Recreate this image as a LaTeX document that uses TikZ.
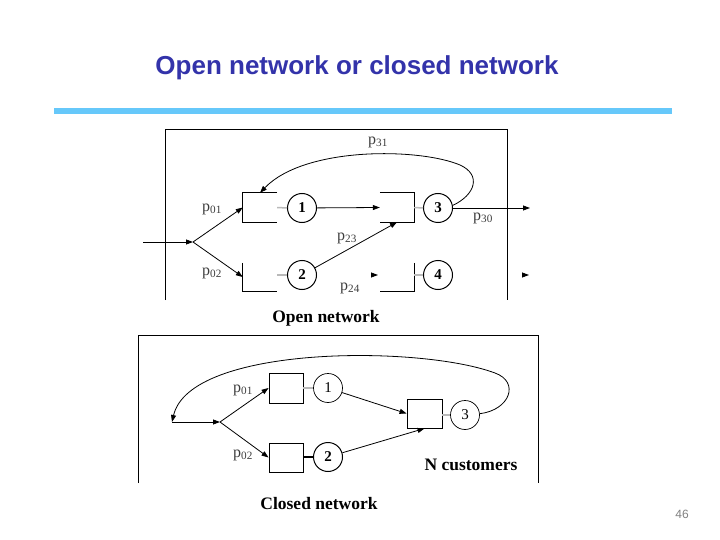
\documentclass[tikz,border=0pt]{standalone}
\usepackage{fontspec}
\setmainfont{Liberation Serif}
\newfontfamily\sansf{Liberation Sans}
\usetikzlibrary{arrows.meta}
\definecolor{titleblue}{RGB}{51,51,170}
\definecolor{rulecol}{RGB}{102,200,250}
\definecolor{lblcol}{RGB}{60,60,60}
\begin{document}
\begin{tikzpicture}[x=1pt,y=-1pt,
  arr/.style={line width=0.8pt,-{Triangle[length=7pt,width=5pt]}},
  frame/.style={line width=0.9pt},
  srv/.style={circle,draw,line width=1pt,minimum size=29pt,inner sep=0pt,font=\fontsize{15}{15}\selectfont\bfseries},
  que/.style={rectangle,minimum width=34pt,minimum height=29pt,inner sep=0pt},
  qline/.style={line width=0.9pt},
  link/.style={line width=1.5pt,gray!55},
  lbl/.style={font=\fontsize{16}{16}\selectfont,text=lblcol,inner sep=0pt},
  captext/.style={font=\fontsize{17.5}{17.5}\selectfont\bfseries,inner sep=0pt}]
\useasboundingbox (0,0) rectangle (720,540);
% title
\node[font=\sansf\fontsize{26}{26}\selectfont\bfseries,text=titleblue,inner sep=0pt] (title) at (357,68) {Open network or closed network};
\draw[rulecol,line width=6pt] (54,111) -- (672,111);
% ---------------- open network ----------------
\draw[frame] (165,300) -- (165,129) -- (507,129) -- (507,300);
\node[que] (q1) at (260,207.5) {};
\node[que] (q3) at (397,207.5) {};
\node[que,minimum height=28pt] (q2) at (260,277) {};
\node[que,minimum height=28pt] (q4) at (397,277) {};
\draw[qline] (q1.north east) -- (q1.north west) -- (q1.south west) -- (q1.south east);
\draw[qline] (q3.north west) -- (q3.north east) -- (q3.south east) -- (q3.south west);
\draw[qline] (q2.north west) -- (q2.south west) -- (q2.south east);
\draw[qline] (q4.north east) -- (q4.south east) -- (q4.south west);
\node[srv] (c1) at (302,208) {1};
\node[srv] (c3) at (438,208) {3};
\node[srv] (c2) at (302,275) {2};
\node[srv] (c4) at (438,275) {4};
\draw[link] (q1.east) -- (c1.west);
\draw[link] (q3.east) -- (c3.west);
\draw[link] (q2.east |- c2.west) -- (c2.west);
\draw[link] (q4.east |- c4.west) -- (c4.west);
\coordinate (in) at (143,242);
\coordinate (s) at (193,242);
\coordinate (out) at (530,208);
\coordinate (t24a) at (371,275);
\coordinate (t24b) at (378,275);
\coordinate (t4a) at (522,275);
\coordinate (t4b) at (529,275);
\draw[arr] (in) -- (s);
\draw[arr] (s) -- (q1.west);
\draw[arr] (s) -- (q2.west);
\draw[arr] (c1) -- (q3.west);
\draw[arr] (c3) -- (out);
\draw[arr] (c2) -- (q3.south);
\draw[arr] (t24a) -- (t24b);
\draw[arr] (t4a) -- (t4b);
\draw[arr] (c3.10) .. controls (475,195) and (482,175) .. (460,165)
   .. controls (420,148) and (305,146) .. (q1.north);
\node[lbl] (l31) at (378,142) {p\textsubscript{31}};
\node[lbl] (l30) at (483,218) {p\textsubscript{30}};
\node[lbl] (l23) at (347,238) {p\textsubscript{23}};
\node[lbl] (l24) at (350,288) {p\textsubscript{24}};
\node[lbl] (l01) at (212,209) {p\textsubscript{01}};
\node[lbl] (l02) at (212,273) {p\textsubscript{02}};
\node[captext] (open) at (326,318) {Open network};
% ---------------- closed network ----------------
\draw[frame] (138,483) -- (138,335) -- (538,335) -- (538,483);
\node[que,draw,qline,minimum height=30pt] (k1) at (286,388) {};
\node[que,draw,qline] (k2) at (286,457.5) {};
\node[que,draw,qline,minimum width=35pt] (k3) at (424.5,413.5) {};
\node[srv,line width=0.7pt,font=\fontsize{15}{15}\selectfont] (d1) at (328,388) {1};
\node[srv] (d2) at (328,457) {2};
\node[srv,line width=0.7pt,font=\fontsize{15}{15}\selectfont] (d3) at (465,415) {3};
\draw[link] (k1.east) -- (d1.west);
\draw[line width=1.2pt] (k2.east |- d2.west) -- (d2.west);
\draw[link] (k3.east |- d3.west) -- (d3.west);
\coordinate (fb) at (172,422);
\coordinate (cs) at (220,422);
\draw[arr] (d1) -- (k3.west);
\draw[arr] (d2) -- (k3.south);
\draw[arr] (d3.5) .. controls (510,410) and (520,382) .. (495,373)
   .. controls (420,345) and (190,345) .. (fb);
\draw[arr] (fb) -- (cs);
\draw[arr] (cs) -- (k1.west);
\draw[arr] (cs) -- (k2.west);
\node[lbl] (m01) at (243,390) {p\textsubscript{01}};
\node[lbl] (m02) at (243,455) {p\textsubscript{02}};
\node[captext] (ncust) at (471,465) {N customers};
\node[captext] (closed) at (319,504) {Closed network};
\node[font=\sansf\fontsize{12}{12}\selectfont,text=gray,inner sep=0pt] (page) at (682,514) {46};
\end{tikzpicture}
\end{document}
